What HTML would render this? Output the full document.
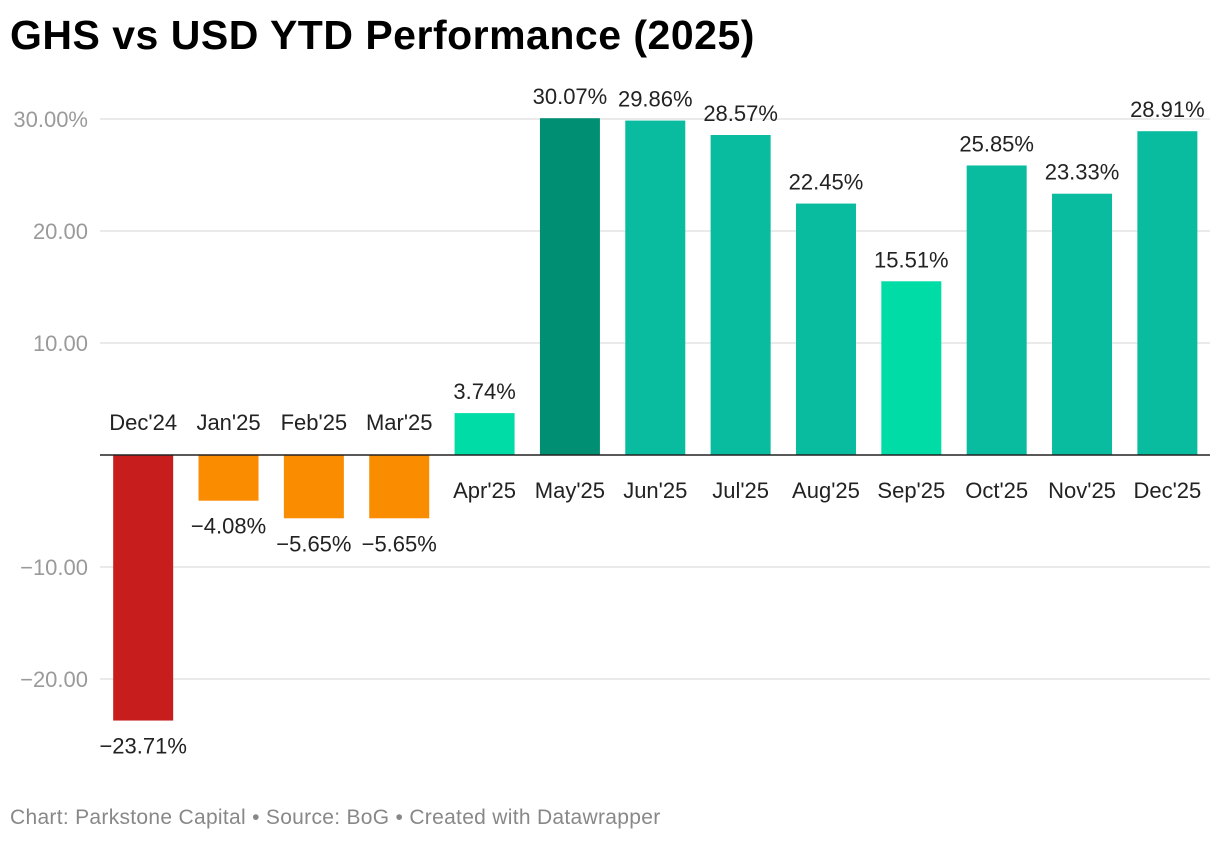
<!DOCTYPE html>
<html><head><meta charset="utf-8"><style>
body{margin:0;background:#fff;width:1220px;height:842px;overflow:hidden;font-family:"Liberation Sans",sans-serif}
#title{position:absolute;left:10px;top:12px;font-size:41px;font-weight:bold;color:#000;letter-spacing:0.5px}
#foot{position:absolute;left:10px;top:806px;font-size:21px;color:#888;letter-spacing:0.3px}
svg{position:absolute;left:0;top:0}
</style></head><body>
<div id="title">GHS vs USD YTD Performance (2025)</div>
<svg id="chart" width="1220" height="842"></svg>
<div id="foot">Chart: Parkstone Capital • Source: BoG • Created with Datawrapper</div>
<script>
const categories=["Dec'24","Jan'25","Feb'25","Mar'25","Apr'25","May'25","Jun'25","Jul'25","Aug'25","Sep'25","Oct'25","Nov'25","Dec'25"];
const values=[-23.71,-4.08,-5.65,-5.65,3.74,30.07,29.86,28.57,22.45,15.51,25.85,23.33,28.91];
const colors=["#c71e1d","#fa8c00","#fa8c00","#fa8c00","#00dca6","#008f73","#09bb9f","#09bb9f","#09bb9f","#00dca6","#09bb9f","#09bb9f","#09bb9f"];
const ticks=[30,20,10,-10,-20];
const tickLabels=["30.00%","20.00","10.00","−10.00","−20.00"];
const svg=document.getElementById('chart');const NS='http://www.w3.org/2000/svg';
const y=v=>455-v*11.2;
const left=100.5,band=85.35;
const xc=i=>left+band*(i+0.5);
function mk(t,a){const e=document.createElementNS(NS,t);for(const k in a)e.setAttribute(k,a[k]);svg.appendChild(e);return e;}
ticks.forEach((t,i)=>{
 const l=mk('line',{x1:100,x2:1210,y1:y(t),y2:y(t),stroke:'#e3e3e3','stroke-width':1.5});
 
 
 const tx=mk('text',{x:88,y:y(t)+8,'text-anchor':'end','font-size':22,fill:'#9a9a9a'});
 tx.textContent=tickLabels[i];
 
 
});
values.forEach((v,i)=>{
 const r=mk('rect',{x:xc(i)-30,width:60,y:Math.min(y(v),y(0)),height:Math.abs(y(v)-y(0)),fill:colors[i]});
 
 
 const lab=mk('text',{x:xc(i),'text-anchor':'middle','font-size':22,fill:'#222'});
 lab.setAttribute('y',v>=0?y(v)-14:y(v)+33);
 lab.textContent=(v<0?'−':'')+Math.abs(v).toFixed(2)+'%';
 
 
 const c=mk('text',{x:xc(i),'text-anchor':'middle','font-size':22,fill:'#222'});
 c.setAttribute('y',v>=0?y(0)+43:y(0)-25);
 c.textContent=categories[i];
 
 
});
const z=mk('line',{x1:100,x2:1210,y1:y(0),y2:y(0),stroke:'#222','stroke-width':1.5});


</script>
</body></html>
